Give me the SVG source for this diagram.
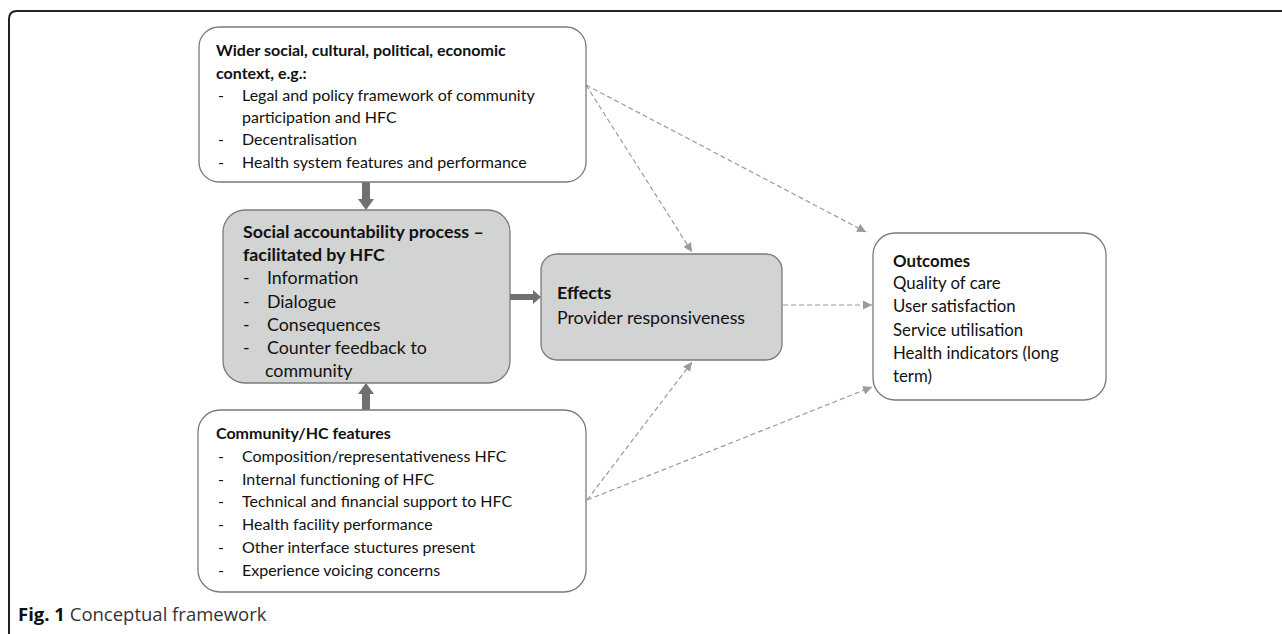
<svg xmlns="http://www.w3.org/2000/svg" width="1282" height="634" viewBox="0 0 1282 634">
<defs>
<style>
.box{fill:#fff;stroke:#7a7a7a;stroke-width:1.3}
.grey{fill:#d2d3d3;stroke:#7a7a7a;stroke-width:1.3}
text{font-family:Lato,"Liberation Sans",sans-serif;fill:#111}
.t{font-size:16px}
.b{font-size:16px;font-weight:bold}
.tg{font-size:17.8px}
.bg{font-size:17.8px;font-weight:bold}
.to{font-size:16.8px}
.bo{font-size:16.8px;font-weight:bold}
.dash{stroke:#9a9a9a;stroke-width:1.2;stroke-dasharray:5 3;fill:none;marker-end:url(#ah)}
.thick{fill:#707070}
</style>
<marker id="ah" viewBox="0 0 10 10" refX="10" refY="5" markerWidth="9" markerHeight="9" markerUnits="userSpaceOnUse" orient="auto">
<path d="M0,0 L10,5 L0,10 z" fill="#9a9a9a"/>
</marker>
</defs>
<rect width="1282" height="634" fill="#fff"/>
<path d="M9,634 L9,19 Q9,11 17,11 L1282,11" fill="none" stroke="#222" stroke-width="2"/>

<g id="connectors">
<path class="thick" d="M362,182 L370,182 L370,199 L374,199 L366,210 L358,199 L362,199 z"/>
<path class="thick" d="M362,410 L370,410 L370,394 L374,394 L366,383 L358,394 L362,394 z"/>
<path class="thick" d="M510,294 L533,294 L533,290 L541,297 L533,304 L533,300 L510,300 z"/>
<line class="dash" x1="586" y1="85" x2="692" y2="252"/>
<line class="dash" x1="586" y1="85" x2="866" y2="232"/>
<line class="dash" x1="783" y1="305" x2="872" y2="305"/>
<line class="dash" x1="587" y1="500" x2="692" y2="362"/>
<line class="dash" x1="587" y1="500" x2="872" y2="387"/>
</g>

<g id="context">
<rect class="box" x="199" y="27" width="387" height="155" rx="20"/>
<text class="b" x="216" y="56">Wider social, cultural, political, economic</text>
<text class="b" x="216" y="79">context, e.g.:</text>
<text class="t" x="218" y="101">-</text><text class="t" x="242" y="101">Legal and policy framework of community</text>
<text class="t" x="242" y="123">participation and HFC</text>
<text class="t" x="218" y="145">-</text><text class="t" x="242" y="145">Decentralisation</text>
<text class="t" x="218" y="168">-</text><text class="t" x="242" y="168">Health system features and performance</text>
</g>

<g id="process">
<rect class="grey" x="223" y="210" width="287" height="173" rx="22"/>
<text class="bg" x="243" y="238">Social accountability process –</text>
<text class="bg" x="243" y="261">facilitated by HFC</text>
<text class="tg" x="243" y="284">-</text><text class="tg" x="267" y="284">Information</text>
<text class="tg" x="243" y="308">-</text><text class="tg" x="267" y="308">Dialogue</text>
<text class="tg" x="243" y="331">-</text><text class="tg" x="267" y="331">Consequences</text>
<text class="tg" x="243" y="354">-</text><text class="tg" x="267" y="354">Counter feedback to</text>
<text class="tg" x="265" y="377">community</text>
</g>

<g id="community">
<rect class="box" x="198" y="410" width="388" height="182" rx="22"/>
<text class="b" x="216" y="439">Community/HC features</text>
<text class="t" x="218" y="462">-</text><text class="t" x="242" y="462">Composition/representativeness HFC</text>
<text class="t" x="218" y="485">-</text><text class="t" x="242" y="485">Internal functioning of HFC</text>
<text class="t" x="218" y="507">-</text><text class="t" x="242" y="507">Technical and financial support to HFC</text>
<text class="t" x="218" y="530">-</text><text class="t" x="242" y="530">Health facility performance</text>
<text class="t" x="218" y="553">-</text><text class="t" x="242" y="553">Other interface stuctures present</text>
<text class="t" x="218" y="576">-</text><text class="t" x="242" y="576">Experience voicing concerns</text>
</g>

<g id="effects">
<rect class="grey" x="541" y="254" width="241" height="106" rx="16"/>
<text class="bg" x="557" y="299">Effects</text>
<text class="tg" x="557" y="324">Provider responsiveness</text>
</g>

<g id="outcomes">
<rect class="box" x="873" y="233" width="233" height="167" rx="22"/>
<text class="bo" x="893" y="267">Outcomes</text>
<text class="to" x="893" y="289">Quality of care</text>
<text class="to" x="893" y="312">User satisfaction</text>
<text class="to" x="893" y="336">Service utilisation</text>
<text class="to" x="893" y="359">Health indicators (long</text>
<text class="to" x="893" y="382">term)</text>
</g>

<g id="caption">
<text x="18" y="621" style="font-size:18.5px;font-family:'Open Sans','Liberation Sans',sans-serif"><tspan font-weight="bold">Fig. 1</tspan><tspan fill="#333"> Conceptual framework</tspan></text>
</g>
</svg>
